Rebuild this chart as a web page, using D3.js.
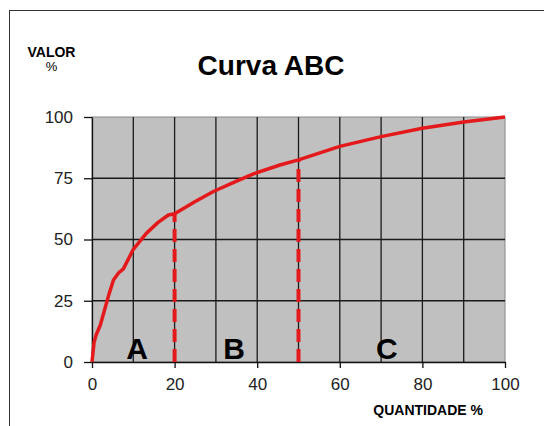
<!DOCTYPE html>
<html>
<head>
<meta charset="utf-8">
<script src="https://cdn.jsdelivr.net/npm/d3@7"></script>
<style>
  html, body { margin: 0; padding: 0; background: #fff; }
  svg { display: block; font-family: "Liberation Sans", Arial, sans-serif; }
</style>
</head>
<body>
<svg id="chart"></svg>
<script>
// curva ABC
var qtd   = [0, 0.5, 1, 2, 3, 4, 5.2, 6.5, 7.6, 10, 13.2, 16, 18.5, 20, 25, 29.4, 35, 39.1, 45.5, 50, 60, 70, 80, 90, 100];
var valor = [0, 8, 11, 15, 21, 27, 33.5, 36.5, 38, 46, 52.6, 57, 60, 60.5, 65.5, 69.6, 73.8, 76.8, 80.4, 82.5, 88, 92, 95.4, 98, 100];
var corteX = [20, 50];       // limites A/B e B/C
var corteY = [60.5, 82.5];
var classes = ["A", "B", "C"];
var classeX = [10.9, 34.4, 71.4];
var xTicks = [0, 20, 40, 60, 80, 100];
var yTicks = [0, 25, 50, 75, 100];
var xGrid = d3.range(0, 101, 10);

var svgWidth = 544, svgHeight = 426;
var pLeft = 92, pRight = 505, pTop = 117, pBottom = 362;

var svg = d3.select("#chart")
  .attr("width", svgWidth)
  .attr("height", svgHeight);

var x = d3.scaleLinear().domain([0, 100]).range([pLeft, pRight]);
var y = d3.scaleLinear().domain([0, 100]).range([pBottom, pTop]);

// moldura externa
svg.append("rect")
  .attr("x", 9.5).attr("y", 10.5)
  .attr("width", 560).attr("height", 450)
  .attr("fill", "none").attr("stroke", "#333").attr("stroke-width", 1);

// area do grafico
svg.append("rect")
  .attr("x", pLeft).attr("y", pTop)
  .attr("width", pRight - pLeft).attr("height", pBottom - pTop)
  .attr("fill", "#c0c0c0")
  .attr("stroke", "#888").attr("stroke-width", 1);

// grade
svg.append("g").selectAll("line")
  .data(xGrid.slice(1, -1))
  .enter().append("line")
  .attr("x1", function(d) { return x(d); })
  .attr("x2", function(d) { return x(d); })
  .attr("y1", pTop).attr("y2", pBottom)
  .attr("stroke", "#1a1a1a").attr("stroke-width", 1.3);

svg.append("g").selectAll("line")
  .data(yTicks.slice(1, -1))
  .enter().append("line")
  .attr("y1", function(d) { return y(d); })
  .attr("y2", function(d) { return y(d); })
  .attr("x1", pLeft).attr("x2", pRight)
  .attr("stroke", "#1a1a1a").attr("stroke-width", 1.3);

// eixos
var xAxis = svg.append("g")
  .attr("transform", "translate(0," + pBottom + ")")
  .call(d3.axisBottom(x).tickValues(xTicks).tickSize(6).tickPadding(10).tickSizeOuter(0));
var yAxis = svg.append("g")
  .attr("transform", "translate(" + pLeft + ",0)")
  .call(d3.axisLeft(y).tickValues(yTicks).tickSize(8).tickPadding(11).tickSizeOuter(0));

[xAxis, yAxis].forEach(function(ax) {
  ax.select(".domain").attr("stroke", "#111").attr("stroke-width", 1.3);
  ax.selectAll(".tick line").attr("stroke", "#111").attr("stroke-width", 1.3);
  ax.selectAll(".tick text")
    .attr("fill", "#222")
    .style("font-family", "'Liberation Sans', Arial, sans-serif")
    .style("font-size", "17px");
});

// linhas de corte tracejadas
svg.append("g").selectAll("line")
  .data(corteX)
  .enter().append("line")
  .attr("x1", function(d) { return x(d); })
  .attr("x2", function(d) { return x(d); })
  .attr("y1", y(0))
  .attr("y2", function(d, i) { return y(corteY[i]); })
  .attr("stroke", "#e4191b").attr("stroke-width", 4)
  .attr("stroke-dasharray", "13,7");

// curva
var line = d3.line()
  .x(function(d, i) { return x(qtd[i]); })
  .y(function(d) { return y(d); });

svg.append("path")
  .datum(valor)
  .attr("d", line)
  .attr("fill", "none")
  .attr("stroke", "#e4191b")
  .attr("stroke-width", 3.5)
  .attr("stroke-linejoin", "round");

// letras A B C
svg.append("g").selectAll("text")
  .data(classes)
  .enter().append("text")
  .attr("x", function(d, i) { return x(classeX[i]); })
  .attr("y", y(0) - 3)
  .attr("text-anchor", "middle")
  .attr("font-weight", "bold")
  .attr("font-size", 30)
  .attr("fill", "#000")
  .text(function(d) { return d; });

// titulos
svg.append("text")
  .attr("x", 271).attr("y", 75)
  .attr("text-anchor", "middle")
  .attr("font-weight", "bold").attr("font-size", 28)
  .text("Curva ABC");

svg.append("text")
  .attr("x", 51.5).attr("y", 57)
  .attr("text-anchor", "middle")
  .attr("font-weight", "bold").attr("font-size", 14)
  .text("VALOR");

svg.append("text")
  .attr("x", 51.5).attr("y", 71)
  .attr("text-anchor", "middle")
  .attr("font-size", 13)
  .text("%");

svg.append("text")
  .attr("x", 483).attr("y", 415)
  .attr("text-anchor", "end")
  .attr("font-weight", "bold").attr("font-size", 14)
  .text("QUANTIDADE %");
</script>
</body>
</html>
